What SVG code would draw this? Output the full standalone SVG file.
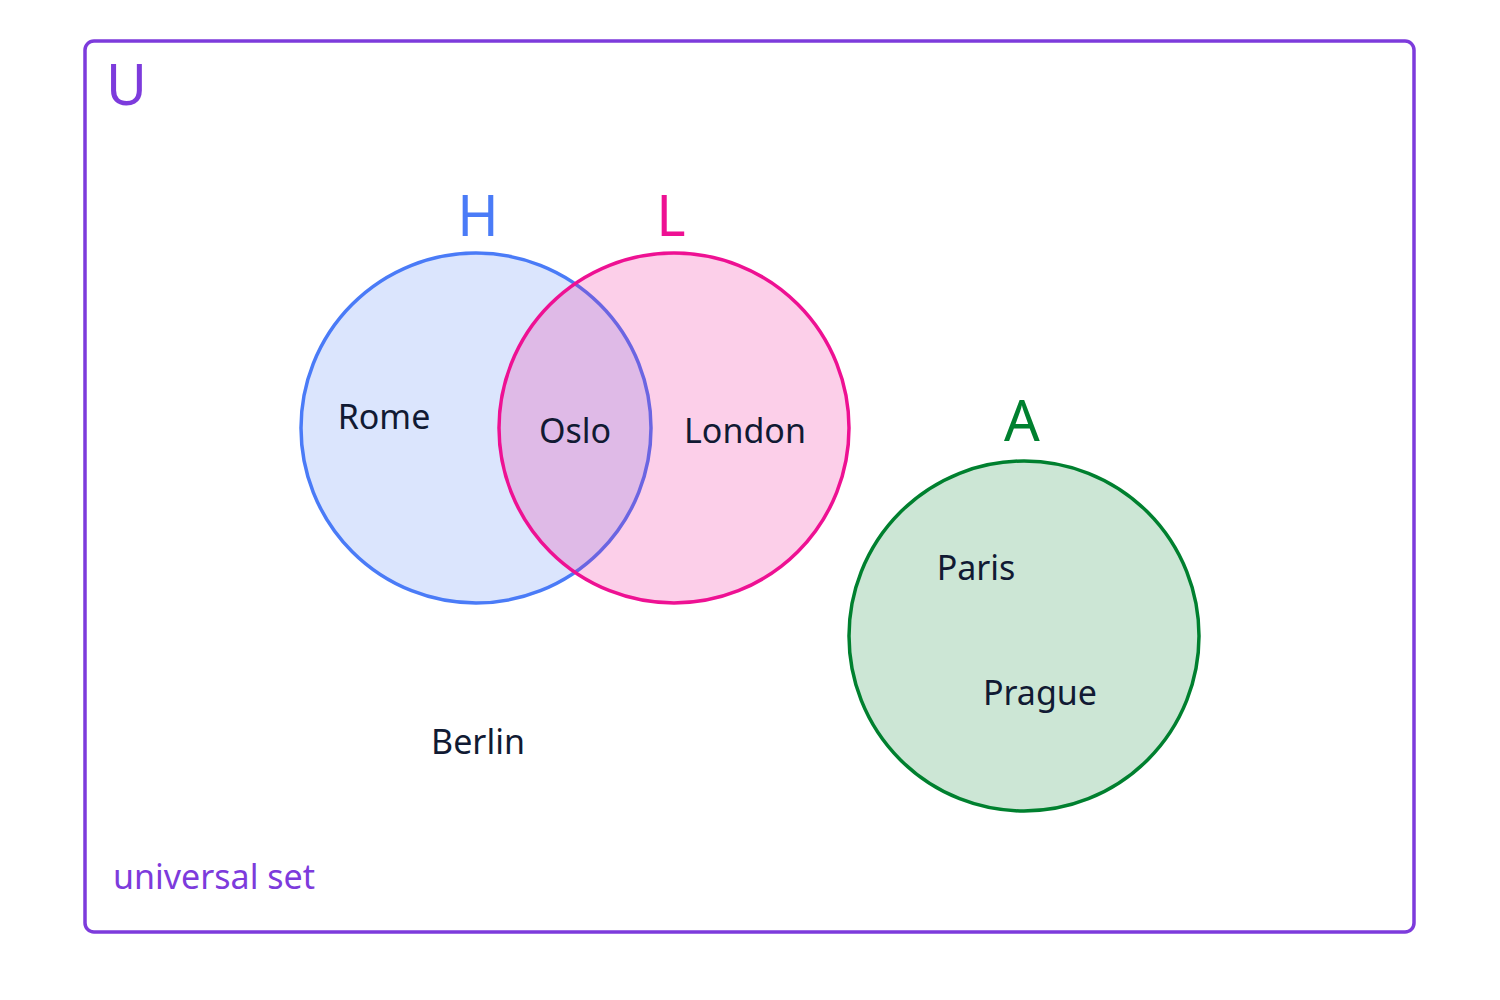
<svg xmlns="http://www.w3.org/2000/svg" width="1500" height="1000" viewBox="0 0 1500 1000">
<style>
.t{font-family:"Noto Sans","DejaVu Sans",sans-serif;font-size:34px;fill:#111a33}
.s{font-family:"Noto Sans","DejaVu Sans",sans-serif;font-size:56px}
</style>
<rect width="1500" height="1000" fill="#fff"/>
<g id="universe">
<rect x="85" y="41" width="1329" height="891" rx="9" fill="none" stroke="#7d3bdc" stroke-width="3.5"/>
<text x="106" y="105" class="s" fill="#7d3bdc">U</text>
<text x="113" y="889" class="t" style="fill:#7d3bdc">universal set</text>
</g>
<g id="H">
<circle cx="476" cy="428" r="175" fill="#4a7bf7" fill-opacity="0.2" stroke="#4a7bf7" stroke-width="3.5"/>
<text x="478" y="236" class="s" fill="#4a7bf7" text-anchor="middle">H</text>
</g>
<g id="L">
<circle cx="674" cy="428" r="175" fill="#ee1193" fill-opacity="0.2" stroke="#ee1193" stroke-width="3.5"/>
<text x="671" y="236" class="s" fill="#ee1193" text-anchor="middle">L</text>
</g>
<g id="A">
<circle cx="1024" cy="636" r="175" fill="#00802f" fill-opacity="0.2" stroke="#00802f" stroke-width="3.5"/>
<text x="1022" y="441" class="s" fill="#00802f" text-anchor="middle">A</text>
</g>
<g id="connectors"/>
<g id="labels">
<text x="384" y="429" class="t" text-anchor="middle">Rome</text>
<text x="575" y="443" class="t" text-anchor="middle">Oslo</text>
<text x="745" y="443" class="t" text-anchor="middle">London</text>
<text x="976" y="580" class="t" text-anchor="middle">Paris</text>
<text x="1040" y="705" class="t" text-anchor="middle">Prague</text>
<text x="478" y="754" class="t" text-anchor="middle">Berlin</text>
</g>
</svg>
